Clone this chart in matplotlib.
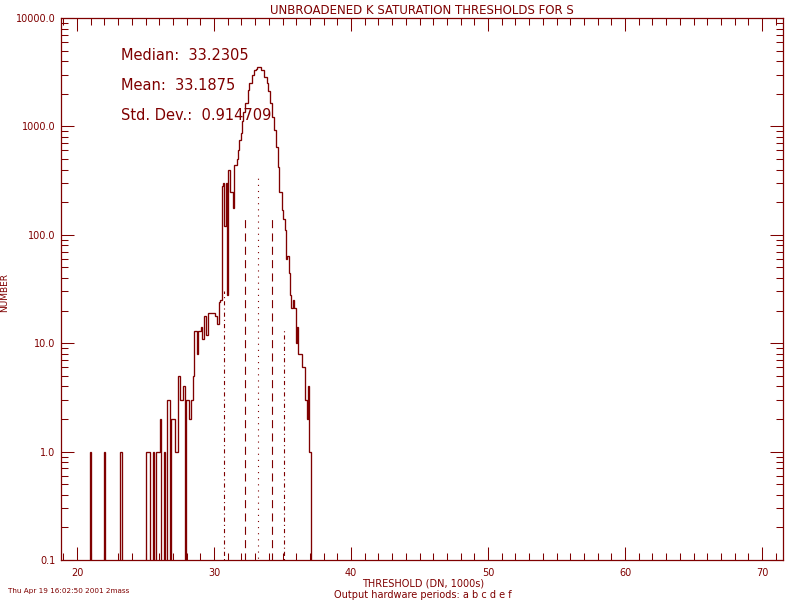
import numpy as np
import matplotlib
matplotlib.use('Agg')
import matplotlib.pyplot as plt
from matplotlib.ticker import FixedLocator, FixedFormatter, NullFormatter, LogLocator

plt.rcParams['lines.scale_dashes'] = False
plt.rcParams['font.family'] = ['DejaVu Sans']
C = '#7f0000'

# ---------------- data ----------------
bin_start = 20.95
bin_width = 0.1
counts = [
    1, 0, 0, 0, 0, 0, 0, 0, 0, 0,                 # 21.0-21.9
    1, 0, 0, 0, 0, 0, 0, 0, 0, 0,                 # 22.0-22.9
    0, 0, 1, 0, 0, 0, 0, 0, 0, 0,                 # 23.0-23.9
    0, 0, 0, 0, 0, 0, 0, 0, 0, 0,                 # 24.0-24.9
    0, 1, 1, 1, 0, 0, 1, 0, 1, 1,                 # 25.0-25.9
    1, 2, 0, 0, 1, 0, 3, 3, 0, 2,                 # 26.0-26.9
    2, 2, 1, 1, 5, 5, 3, 3, 4, 0,                 # 27.0-27.9
    3, 3, 2, 2, 3, 5, 13, 13, 8, 13,              # 28.0-28.9
    13, 14, 11, 18, 18, 12, 19, 19, 19, 19,       # 29.0-29.9
    19, 18, 18, 15, 24, 25, 280, 300, 120, 300,   # 30.0-30.9
    28, 400, 250, 250, 175, 440, 440, 500, 610, 750,        # 31.0-31.9
    870, 1130, 1370, 1650, 1650, 2170, 2510, 2510, 2950, 2950,  # 32.0-32.9
    3300, 3400, 3500, 3550, 3500, 3300, 3300, 2850, 2850, 2500,  # 33.0-33.9
    2100, 1650, 1650, 1230, 930, 930, 640, 420, 250, 250,   # 34.0-34.9
    168, 140, 110, 60, 64, 44, 28, 21, 25, 21,    # 35.0-35.9
    10, 14, 8, 8, 8, 6, 6, 3, 2, 4,               # 36.0-36.9
    1,                                            # 37.0
]

median_val = 33.2305
mean_val = 33.1875
std_val = 0.914709

marker_x = [30.73, 32.28, 33.23, 34.26, 35.13]
marker_top = [30, 140, 355, 140, 13.5]
marker_kind = ['dashdot', 'dashed', 'dotted', 'dashed', 'dashdot']

xticks = [20, 30, 40, 50, 60, 70]
xtick_labels = ['20', '30', '40', '50', '60', '70']
yticks = [0.1, 1, 10, 100, 1000, 10000]
ytick_labels = ['0.1', '1.0', '10.0', '100.0', '1000.0', '10000.0']

title = 'UNBROADENED K SATURATION THRESHOLDS FOR S'
xlabel = 'THRESHOLD (DN, 1000s)'
xlabel2 = 'Output hardware periods: a b c d e f'
ylabel = 'NUMBER'
stamp = 'Thu Apr 19 16:02:50 2001 2mass'

# ---------------- figure ----------------
W, H = 800, 600
fig = plt.figure(figsize=(8, 6), dpi=100)
fig.patch.set_facecolor('white')
ax = fig.add_axes([61 / W, 40 / H, 722 / W, 542 / H])
ax.set_yscale('log')
ax.set_xlim(18.83, 71.53)
ax.set_ylim(0.1, 10000)

cnt = np.array(counts, dtype=float)
edges = bin_start + bin_width * np.arange(len(cnt) + 1)
low = 1e-3
vals = np.where(cnt > 0, cnt, low)
ax.stairs(vals, edges, baseline=low, color=C, lw=0.95)

dash_map = {
    'dotted': (0, (0.8, 3.6)),
    'dashed': (0, (5.8, 3.8)),
    'dashdot': (0, (3.0, 2.2, 0.8, 2.2)),
}
for xv, top, kind in zip(marker_x, marker_top, marker_kind):
    ax.plot([xv, xv], [low, top], color=C, lw=0.8, linestyle=dash_map[kind])

# ticks
ax.xaxis.set_major_locator(FixedLocator(xticks))
ax.xaxis.set_major_formatter(FixedFormatter(xtick_labels))
ax.xaxis.set_minor_locator(FixedLocator(np.arange(19, 72, 1)))
ax.yaxis.set_major_locator(FixedLocator(yticks))
ax.yaxis.set_major_formatter(FixedFormatter(ytick_labels))
ax.yaxis.set_minor_locator(LogLocator(base=10, subs=np.arange(2, 10)))
ax.yaxis.set_minor_formatter(NullFormatter())

ax.tick_params(which='both', direction='in', top=True, right=True,
               color=C, width=0.75, labelcolor=C, labelsize=7)
ax.tick_params(which='major', length=9.7)
ax.tick_params(which='minor', length=5.0)
ax.tick_params(axis='x', pad=6)
ax.tick_params(axis='y', pad=4)
for s in ax.spines.values():
    s.set_color(C)
    s.set_linewidth(0.9)

# texts
def ft(x, y, s, **kw):
    fig.text(x / W, 1 - y / H, s, color=C, **kw)

ft(422, 10, title, ha='center', va='center', fontsize=8.5)
ft(121, 55, 'Median:  %.4f' % median_val, ha='left', va='center', fontsize=10.5)
ft(121, 86, 'Mean:  %.4f' % mean_val, ha='left', va='center', fontsize=10.5)
ft(121, 116, 'Std. Dev.:  %.6f' % std_val, ha='left', va='center', fontsize=10.5)
ft(423, 583, xlabel, ha='center', va='center', fontsize=7)
ft(423, 595, xlabel2, ha='center', va='center', fontsize=7)
ft(5, 292, ylabel, ha='center', va='center', rotation=90, fontsize=6.5)
ft(8, 591, stamp, ha='left', va='center', fontsize=5.2)

fig.savefig('out.png', dpi=100)
